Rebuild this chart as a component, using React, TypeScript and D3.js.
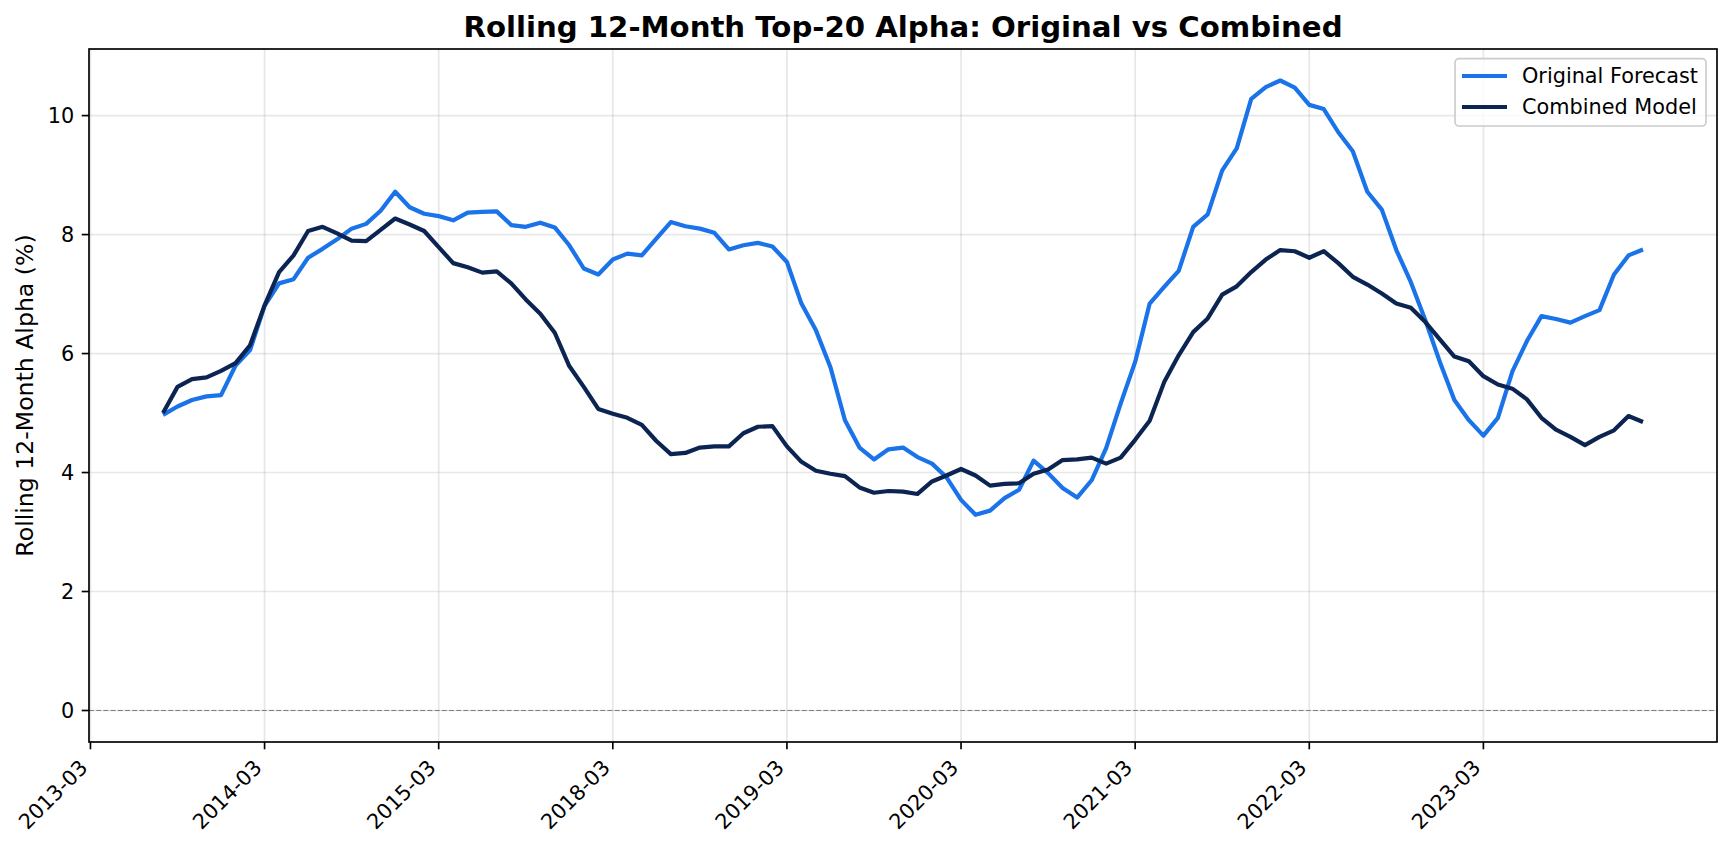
import React from "react";
import * as d3 from "d3";

// ---------- data ----------
const START_INDEX = 5; // first plotted position on the category axis

const originalForecast: number[] = [
  4.97, 5.11, 5.22, 5.28, 5.30, 5.80, 6.06, 6.80, 7.18, 7.25,
  7.61, 7.76, 7.92, 8.10, 8.18, 8.40, 8.72, 8.46, 8.35, 8.31,
  8.24, 8.37, 8.38, 8.39, 8.16, 8.13, 8.20, 8.12, 7.82, 7.43,
  7.33, 7.58, 7.68, 7.65, 7.93, 8.21, 8.14, 8.10, 8.03, 7.75,
  7.82, 7.86, 7.80, 7.54, 6.84, 6.39, 5.77, 4.88, 4.42, 4.22,
  4.39, 4.42, 4.26, 4.15, 3.92, 3.54, 3.29, 3.36, 3.57, 3.71,
  4.20, 3.99, 3.74, 3.58, 3.87, 4.41, 5.16, 5.86, 6.84, 7.12,
  7.39, 8.13, 8.34, 9.08, 9.45, 10.28, 10.48, 10.59, 10.47, 10.18,
  10.11, 9.72, 9.40, 8.72, 8.42, 7.74, 7.20, 6.56, 5.86, 5.22,
  4.88, 4.62, 4.92, 5.70, 6.21, 6.63, 6.58, 6.52, 6.63, 6.73,
  7.33, 7.65, 7.75,
];

const combinedModel: number[] = [
  5.00, 5.44, 5.57, 5.60, 5.71, 5.84, 6.14, 6.81, 7.37, 7.65,
  8.06, 8.13, 8.02, 7.90, 7.89, 8.08, 8.27, 8.17, 8.06, 7.79,
  7.52, 7.45, 7.36, 7.38, 7.18, 6.91, 6.67, 6.35, 5.79, 5.44,
  5.07, 4.99, 4.92, 4.80, 4.53, 4.31, 4.33, 4.42, 4.44, 4.44,
  4.66, 4.77, 4.78, 4.44, 4.18, 4.03, 3.98, 3.94, 3.75, 3.66,
  3.69, 3.68, 3.64, 3.85, 3.95, 4.06, 3.95, 3.78, 3.81, 3.82,
  3.98, 4.05, 4.21, 4.22, 4.25, 4.15, 4.25, 4.55, 4.87, 5.52,
  5.97, 6.36, 6.59, 6.99, 7.13, 7.37, 7.58, 7.74, 7.72, 7.61,
  7.72, 7.52, 7.29, 7.16, 7.01, 6.84, 6.77, 6.53, 6.24, 5.95,
  5.87, 5.62, 5.48, 5.41, 5.23, 4.92, 4.72, 4.60, 4.46, 4.60,
  4.71, 4.95, 4.85,
];

const xTickPositions: number[] = [0, 12, 24, 36, 48, 60, 72, 84, 96];
const xTickLabels: string[] = [
  "2013-03", "2014-03", "2015-03", "2018-03", "2019-03",
  "2020-03", "2021-03", "2022-03", "2023-03",
];
const yTicks: number[] = [0, 2, 4, 6, 8, 10];

const seriesNames: string[] = ["Original Forecast", "Combined Model"];
const seriesColors: string[] = ["#1a73e8", "#0b2452"];

// ---------- layout ----------
const W = 1731;
const H = 847;
const LEFT = 89;
const RIGHT = 1717;
const TOP = 49;
const BOTTOM = 742;
const FONT = "'DejaVu Sans', 'Liberation Sans', sans-serif";

export default function App() {
  const n = originalForecast.length;
  const firstIdx = START_INDEX;
  const lastIdx = START_INDEX + n - 1;
  const xPad = (lastIdx - firstIdx) * 0.05;
  const x = d3
    .scaleLinear()
    .domain([firstIdx - xPad, lastIdx + xPad])
    .range([LEFT, RIGHT]);

  const allVals = [...originalForecast, ...combinedModel, 0];
  const yMin = d3.min(allVals) as number;
  const yMax = d3.max(allVals) as number;
  const yPad = (yMax - yMin) * 0.05;
  const y = d3
    .scaleLinear()
    .domain([yMin - yPad, yMax + yPad])
    .range([BOTTOM, TOP]);

  const line = d3
    .line<number>()
    .x((_, i) => x(START_INDEX + i))
    .y((d) => y(d));

  const series = [originalForecast, combinedModel];

  const tickLen = 7.3;
  const sw = 1.67;

  return (
    <div style={{ position: "absolute", left: 0, top: 0 }}>
      <svg width={W} height={H} style={{ display: "block", background: "#fff" }}>
        <rect x={0} y={0} width={W} height={H} fill="#fff" />
        <defs>
          <clipPath id="plot-clip">
            <rect x={LEFT} y={TOP} width={RIGHT - LEFT} height={BOTTOM - TOP} />
          </clipPath>
        </defs>

        {/* grid */}
        <g stroke="#b0b0b0" strokeOpacity={0.3} strokeWidth={sw}>
          {xTickPositions.map((p) => (
            <line key={"gx" + p} x1={x(p)} x2={x(p)} y1={TOP} y2={BOTTOM} />
          ))}
          {yTicks.map((t) => (
            <line key={"gy" + t} x1={LEFT} x2={RIGHT} y1={y(t)} y2={y(t)} />
          ))}
        </g>

        {/* zero line */}
        <line
          x1={LEFT}
          x2={RIGHT}
          y1={y(0)}
          y2={y(0)}
          stroke="#808080"
          strokeWidth={1.1}
          strokeDasharray="5,2.2"
        />

        {/* series */}
        <g clipPath="url(#plot-clip)" fill="none">
          {series.map((s, k) => (
            <path
              key={seriesNames[k]}
              d={line(s) || ""}
              stroke={seriesColors[k]}
              strokeWidth={4.2}
              strokeLinejoin="round"
              strokeLinecap="butt"
            />
          ))}
        </g>

        {/* spines */}
        <rect
          x={LEFT}
          y={TOP}
          width={RIGHT - LEFT}
          height={BOTTOM - TOP}
          fill="none"
          stroke="#000"
          strokeWidth={sw}
        />

        {/* y ticks */}
        <g fontFamily={FONT} fontSize={20.8} fill="#000">
          {yTicks.map((t) => (
            <g key={"yt" + t}>
              <line
                x1={LEFT - tickLen}
                x2={LEFT}
                y1={y(t)}
                y2={y(t)}
                stroke="#000"
                strokeWidth={sw}
              />
              <text x={LEFT - tickLen - 7.5} y={y(t)} dy="0.36em" textAnchor="end">
                {t}
              </text>
            </g>
          ))}
        </g>

        {/* x ticks */}
        <g fontFamily={FONT} fontSize={20.8} fill="#000">
          {xTickPositions.map((p, i) => (
            <g key={"xt" + p}>
              <line
                x1={x(p)}
                x2={x(p)}
                y1={BOTTOM}
                y2={BOTTOM + tickLen}
                stroke="#000"
                strokeWidth={sw}
              />
              <text
                textAnchor="end"
                transform={`translate(${x(p) - 1.5},${BOTTOM + 27}) rotate(-45)`}
              >
                {xTickLabels[i]}
              </text>
            </g>
          ))}
        </g>

        {/* y label */}
        <text
          fontFamily={FONT}
          fontSize={23.6}
          fill="#000"
          textAnchor="middle"
          transform={`translate(33,${(TOP + BOTTOM) / 2}) rotate(-90)`}
        >
          Rolling 12-Month Alpha (%)
        </text>

        {/* title */}
        <text
          x={(LEFT + RIGHT) / 2}
          y={37}
          fontFamily={FONT}
          fontSize={29.2}
          fontWeight="bold"
          fill="#000"
          textAnchor="middle"
        >
          Rolling 12-Month Top-20 Alpha: Original vs Combined
        </text>

        {/* legend */}
        <g fontFamily={FONT} fontSize={20.8}>
          <rect
            x={1455}
            y={58.7}
            width={251}
            height={67.3}
            rx={4}
            ry={4}
            fill="#fff"
            fillOpacity={0.8}
            stroke="#cccccc"
            strokeWidth={1.67}
          />
          {seriesNames.map((name, k) => {
            const ly = 76 + k * 31;
            return (
              <g key={"lg" + name}>
                <line
                  x1={1462}
                  x2={1507}
                  y1={ly}
                  y2={ly}
                  stroke={seriesColors[k]}
                  strokeWidth={4.2}
                />
                <text x={1522} y={ly} dy="0.36em" fill="#000">
                  {name}
                </text>
              </g>
            );
          })}
        </g>
      </svg>
    </div>
  );
}
